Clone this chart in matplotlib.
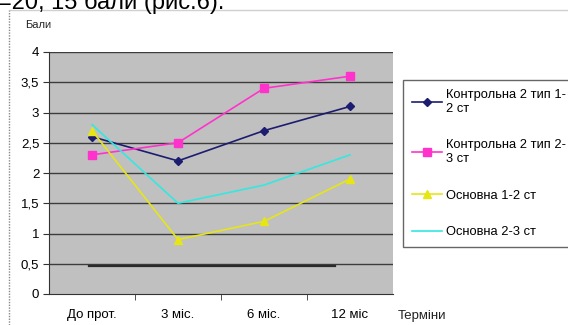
import matplotlib.pyplot as plt
import numpy as np

plt.rcParams['font.family'] = ['Liberation Sans', 'DejaVu Sans']

categories = ["До прот.", "3 міс.", "6 міс.", "12 міс"]
control_12 = [2.6, 2.2, 2.7, 3.1]
control_23 = [2.3, 2.5, 3.4, 3.6]
main_12 = [2.7, 0.9, 1.2, 1.9]
main_23 = [2.8, 1.5, 1.8, 2.3]
labels = ["Контрольна 2 тип 1-\n2 ст", "Контрольна 2 тип 2-\n3 ст",
          "Основна 1-2 ст", "Основна 2-3 ст"]
yticks = [0, 0.5, 1, 1.5, 2, 2.5, 3, 3.5, 4]
ytick_labels = ["0", "0,5", "1", "1,5", "2", "2,5", "3", "3,5", "4"]

W, H = 568, 325
fig = plt.figure(figsize=(W / 100, H / 100), dpi=100)
fig.patch.set_facecolor("white")
ax = fig.add_axes([49 / W, 1 - 294 / H, 344 / W, 242 / H])
ax.set_facecolor("#c0c0c0")

x = np.arange(len(categories))
ax.set_xlim(-0.5, 3.5)
ax.set_ylim(0, 4)
for y in yticks[1:]:
    ax.axhline(y, color="#3c3c3c", lw=1.0, zorder=1)

# stray dark line from the scan
ax.plot([-0.03, 2.83], [0.47, 0.47], color="#2a2a2a", lw=1.6, zorder=2)

ax.plot(x, control_12, color="#1c1c70", marker="D", ms=4, lw=1.2, label=labels[0], zorder=3)
ax.plot(x, control_23, color="#ff33cc", marker="s", ms=6, lw=1.2, label=labels[1], zorder=3)
ax.plot(x, main_12, color="#e6e617", marker="^", ms=6, lw=1.2, label=labels[2], zorder=3)
ax.plot(x, main_23, color="#33e8e0", lw=1.2, label=labels[3], zorder=3)

ax.set_yticks(yticks)
ax.set_yticklabels(ytick_labels, fontsize=9.5)
ax.set_xticks(x)
ax.set_xticklabels(categories, fontsize=9.5)
ax.set_xticks([0.5, 1.5, 2.5], minor=True)
ax.tick_params(axis="x", which="major", length=0, pad=11)
ax.tick_params(axis="x", which="minor", length=4, color="#333333")
ax.tick_params(axis="y", length=4, color="#333333", pad=3)
for side in ["top", "right"]:
    ax.spines[side].set_visible(False)
ax.spines["left"].set_color("#333333")
ax.spines["bottom"].set_color("#333333")

fig.text(25 / W, 1 - 25 / H, "Бали", fontsize=8, va="center", ha="left", color="#222222")
fig.text(398 / W, 1 - 316 / H, "Терміни", fontsize=9.5, va="center", ha="left", color="#222222")
fig.text(-2 / W, 1 - 9 / H, "=20, 15 бали (рис.6).", fontsize=17, va="baseline", ha="left")

# frame of the pasted chart
fig.add_artist(plt.Line2D([10 / W, 1], [1 - 10 / H, 1 - 10 / H], color="#d0d0d0", lw=1))
fig.add_artist(plt.Line2D([9 / W, 9 / W], [0, 1 - 10 / H], color="#888888", lw=1, ls=(0, (1, 1))))

leg = fig.legend(loc="upper left", bbox_to_anchor=(403 / W, 1 - 80 / H), borderaxespad=0,
                 fancybox=False, edgecolor="#666666", fontsize=9.3, labelspacing=1.9,
                 handlelength=2.3, handletextpad=0.3, borderpad=0.7, framealpha=1)
leg.get_frame().set_linewidth(1.0)

fig.savefig("out.png", dpi=100)
